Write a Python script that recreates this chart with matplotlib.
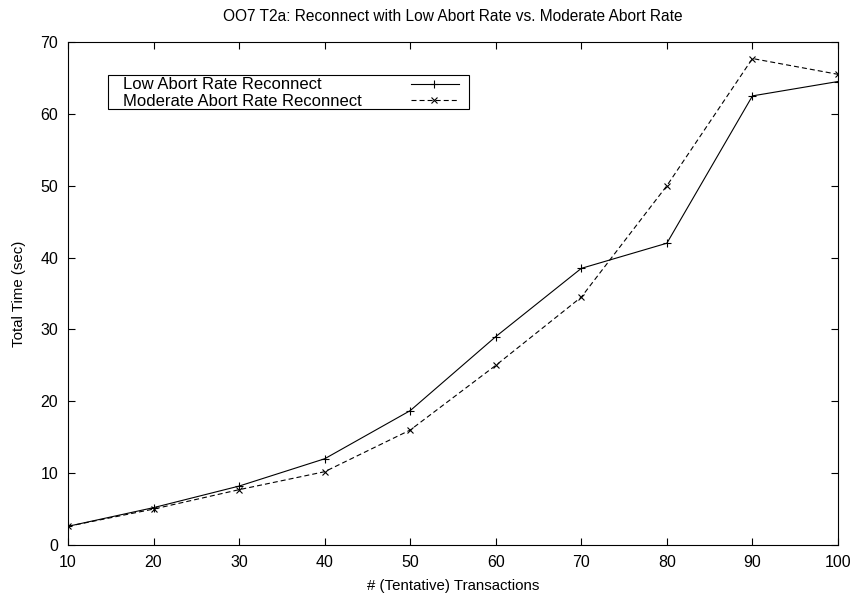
import matplotlib
matplotlib.use("Agg")
import matplotlib.pyplot as plt

plt.rcParams['font.family'] = ['Liberation Sans', 'DejaVu Sans']
plt.rcParams['lines.scale_dashes'] = False

transactions = [10, 20, 30, 40, 50, 60, 70, 80, 90, 100]
low_abort = [2.6, 5.2, 8.2, 12.0, 18.7, 29.0, 38.5, 42.0, 62.5, 64.5]
moderate_abort = [2.6, 5.0, 7.7, 10.2, 16.0, 25.0, 34.5, 50.0, 67.7, 65.5]
x_ticks = [10, 20, 30, 40, 50, 60, 70, 80, 90, 100]
y_ticks = [0, 10, 20, 30, 40, 50, 60, 70]
labels = ['Low Abort Rate Reconnect', 'Moderate Abort Rate Reconnect']

W, H = 855, 596
fig = plt.figure(figsize=(W / 100, H / 100), dpi=100)
ax = fig.add_axes([68 / W, 1 - 545 / H, 770 / W, 503 / H])

dash = (0, (3.6, 2.2))
ax.plot(transactions, low_abort, color='black', lw=0.8, marker='+', ms=5.5, mew=0.8)
ax.plot(transactions, moderate_abort, color='black', lw=0.8, ls=dash, marker='x', ms=5, mew=0.8)

ax.set_xlim(10, 100)
ax.set_ylim(0, 70)
ax.set_xticks(x_ticks)
ax.set_yticks(y_ticks)
ax.tick_params(direction='in', length=5, width=0.8, top=True, right=True, labelsize=11.5, pad=7)
for s in ax.spines.values():
    s.set_linewidth(0.8)

ax.set_title('OO7 T2a: Reconnect with Low Abort Rate vs. Moderate Abort Rate', fontsize=11.2, pad=15)
ax.set_xlabel('# (Tentative) Transactions', fontsize=10.8, labelpad=6.5)
ax.set_ylabel('Total Time (sec)', fontsize=10.8, labelpad=10.5)

# legend drawn gnuplot style: text left, sample right
def fx(px):
    return px / W

def fy(py):
    return 1 - py / H

fig.patches.append(plt.Rectangle((fx(108), fy(109)), fx(469) - fx(108), fy(75) - fy(109),
                                 transform=fig.transFigure, fill=False, ec='black', lw=0.8))
rows = [85, 101]
styles = [dict(ls='-', marker='+', ms=5.5), dict(ls=dash, marker='x', ms=5)]
for lab, ry, st in zip(labels, rows, styles):
    fig.text(fx(123), fy(ry), lab, fontsize=12, ha='left', va='center')
    fig.add_artist(plt.Line2D([fx(411), fx(459)], [fy(ry - 1), fy(ry - 1)], transform=fig.transFigure,
                              color='black', lw=0.8, ls=st['ls']))
    fig.add_artist(plt.Line2D([fx(434)], [fy(ry - 1)], transform=fig.transFigure, color='black',
                              marker=st['marker'], ms=st['ms'], mew=0.8, ls='none'))

fig.savefig('out.png', dpi=100)
